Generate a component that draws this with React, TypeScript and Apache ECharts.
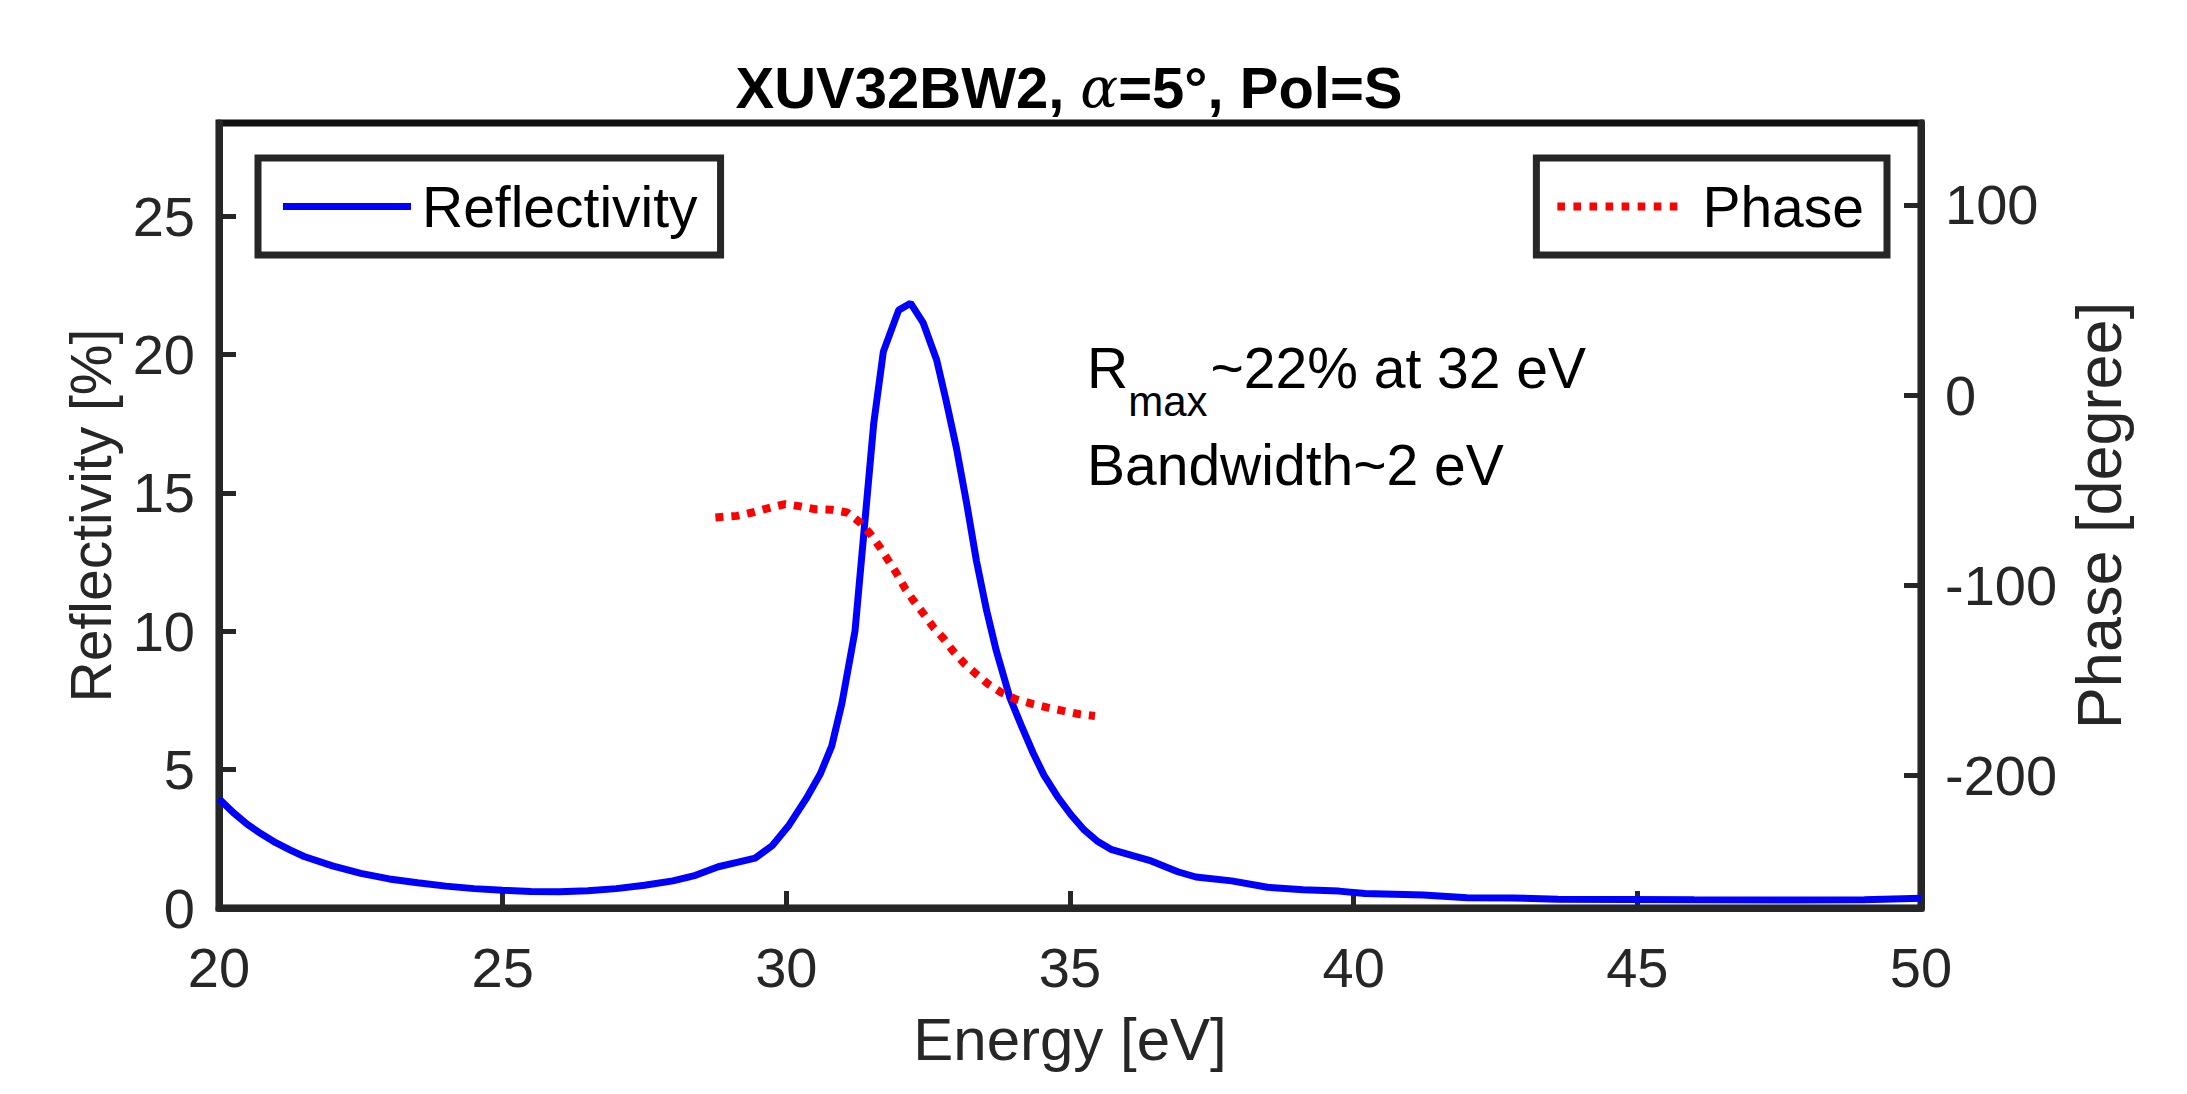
import React, { useEffect, useRef } from 'react';
import * as echarts from 'echarts';

// ---------- data ----------
const energyR = [
  20.0, 20.25, 20.5, 20.75, 21.0, 21.25, 21.5, 22.0, 22.5, 23.0, 23.5, 24.0, 24.5, 25.0, 25.5, 26.0,
  26.5, 27.0, 27.5, 28.0, 28.4, 28.8, 29.15, 29.45, 29.75, 30.05, 30.35, 30.6, 30.8, 30.98, 31.21,
  31.36, 31.54, 31.71, 31.98, 32.19, 32.41, 32.65, 32.82, 33.0, 33.18, 33.35, 33.53, 33.7, 33.94,
  34.15, 34.35, 34.54, 34.78, 35.02, 35.25, 35.49, 35.72, 36.12, 36.43, 36.9, 37.22, 37.85, 38.48,
  39.11, 39.74, 40.2, 41.23, 42.0, 42.8, 43.6, 44.8, 46.0, 47.7, 49.0, 50.0,
];
const reflectivity = [
  3.95, 3.45, 3.02, 2.67, 2.36, 2.1, 1.86, 1.52, 1.25, 1.05, 0.91, 0.79, 0.7, 0.64, 0.6, 0.59,
  0.62, 0.7, 0.82, 0.98, 1.18, 1.49, 1.66, 1.8, 2.25, 3.0, 3.95, 4.85, 5.85, 7.4, 10.0,
  13.4, 17.5, 20.1, 21.6, 21.85, 21.15, 19.8, 18.3, 16.6, 14.6, 12.55, 10.75, 9.3, 7.6,
  6.55, 5.6, 4.8, 4.02, 3.36, 2.82, 2.4, 2.12, 1.88, 1.7, 1.31, 1.12, 0.98, 0.75,
  0.66, 0.61, 0.52, 0.47, 0.37, 0.36, 0.32, 0.31, 0.3, 0.29, 0.3, 0.35,
];
const energyP = [
  28.75, 29.13, 29.42, 29.72, 29.98, 30.25, 30.51, 30.8, 31.07, 31.3, 31.48, 31.65, 31.8, 31.95,
  32.1, 32.24, 32.42, 32.59, 32.77, 32.95, 33.15, 33.36, 33.56, 33.79, 34.05, 34.35, 34.61, 34.88,
  35.17, 35.44,
];
const phase = [
  -64.3, -63.5, -61.6, -59.1, -57.3, -58.5, -60, -60.3, -61.7, -67, -73, -80, -87, -94,
  -102, -108, -115, -122, -128, -135, -141.5, -147, -152, -156.4, -160, -162.5, -164.3, -166,
  -167.8, -168.7,
];
const xRange = [20, 50];
const xStep = 5;
const leftRange = [0, 28.36];
const leftStep = 5;
const rightRange = [-269.7, 143.1];
const rightStep = 100;

const titleParts = ['XUV32BW2, ', 'α', '=5°, Pol=S'];
const annotation1 = ['R', 'max', '~22% at 32 eV'];
const annotation2 = 'Bandwidth~2 eV';

const FONT = "'Liberation Sans', Arial, Helvetica, sans-serif";
const AX = '#262626';

// dotted legend sample (8 square dots)
const DOTS_ICON =
  'path://' +
  Array.from({ length: 8 }, (_, i) => `M${i * 17},0h8v8h-8z`).join(' ');

function measure(text: string, size: number): number {
  const ctx = document.createElement('canvas').getContext('2d');
  if (!ctx) return text.length * size * 0.55;
  ctx.font = `${size}px ${FONT}`;
  return ctx.measureText(text).width;
}

export default function App() {
  const ref = useRef<HTMLDivElement>(null);

  useEffect(() => {
    if (!ref.current) return;
    const chart = echarts.init(ref.current, undefined, { renderer: 'svg' });

    const annX = 1087;
    const mainSize = 57;
    const subSize = 42;
    const rW = measure(annotation1[0], mainSize);
    const maxW = measure(annotation1[1], subSize);

    const axisCommon = {
      axisLine: { show: true, onZero: false, lineStyle: { color: AX, width: 7 } },
      axisTick: { show: true, inside: true, length: 17, lineStyle: { color: AX, width: 5 } },
      splitLine: { show: false },
    };
    const tickFont = 56;

    const option: any = {
      animation: false,
      backgroundColor: '#ffffff',
      title: {
        text: `{b|${titleParts[0]}}{a|${titleParts[1]}}{b|${titleParts[2]}}`,
        left: 1064,
        top: 53,
        textAlign: 'center',
        textStyle: {
          rich: {
            b: { fontFamily: FONT, fontWeight: 'bold', fontSize: 58, color: '#000' },
            a: { fontFamily: "'DejaVu Serif', serif", fontStyle: 'italic', fontWeight: 'normal', fontSize: 56, color: '#000' },
          },
        },
      },
      grid: {
        left: 219,
        right: 266,
        top: 123,
        bottom: 186,
        show: true,
        borderColor: '#111',
        borderWidth: 7,
        backgroundColor: '#fff',
        containLabel: false,
        outerBoundsMode: 'none',
      },
      legend: [
        {
          data: ['Reflectivity'],
          left: 258,
          top: 158,
          padding: [20, 23, 20, 25],
          icon: 'rect',
          itemWidth: 128,
          itemHeight: 7,
          symbolKeepAspect: false,
          borderColor: AX,
          borderWidth: 7,
          backgroundColor: '#fff',
          textStyle: { fontFamily: FONT, fontSize: 57, color: '#000', padding: [0, 0, 0, 6] },
        },
        {
          data: ['Phase'],
          right: 300,
          top: 158,
          padding: [20, 23, 20, 21],
          icon: DOTS_ICON,
          itemWidth: 120,
          itemHeight: 8,
          symbolKeepAspect: false,
          borderColor: AX,
          borderWidth: 7,
          backgroundColor: '#fff',
          textStyle: { fontFamily: FONT, fontSize: 57, color: '#000', padding: [0, 0, 0, 20] },
        },
      ],
      xAxis: {
        type: 'value',
        min: xRange[0],
        max: xRange[1],
        interval: xStep,
        name: 'Energy [eV]',
        nameLocation: 'middle',
        nameGap: 101,
        nameTextStyle: { fontFamily: FONT, fontSize: 60, color: AX },
        ...axisCommon,
        axisLabel: { margin: 31, fontFamily: FONT, fontSize: tickFont, color: AX },
      },
      yAxis: [
        {
          type: 'value',
          position: 'left',
          min: leftRange[0],
          max: leftRange[1],
          interval: leftStep,
          name: 'Reflectivity [%]',
          nameLocation: 'middle',
          nameGap: 100,
          nameTextStyle: { fontFamily: FONT, fontSize: 57, color: AX },
          ...axisCommon,
          axisLabel: {
            margin: 24,
            fontFamily: FONT,
            fontSize: tickFont,
            color: AX,
            showMaxLabel: false,
            formatter: (v: number) => (Math.abs(v / leftStep - Math.round(v / leftStep)) < 1e-6 ? String(v) : ''),
          },
        },
        {
          type: 'value',
          position: 'right',
          min: rightRange[0],
          max: rightRange[1],
          splitNumber: 4,
          name: 'Phase [degree]',
          nameLocation: 'middle',
          nameGap: 146,
          nameTextStyle: { fontFamily: FONT, fontSize: 63, color: AX },
          ...axisCommon,
          axisLabel: {
            margin: 24,
            fontFamily: FONT,
            fontSize: tickFont,
            color: AX,
            showMinLabel: false,
            showMaxLabel: false,
            formatter: (v: number) => (Math.abs(v / rightStep - Math.round(v / rightStep)) < 1e-6 ? String(Math.round(v)) : ''),
          },
        },
      ],
      series: [
        {
          name: 'Reflectivity',
          type: 'line',
          yAxisIndex: 0,
          data: energyR.map((e, i) => [e, reflectivity[i]]),
          symbol: 'none',
          showSymbol: false,
          lineStyle: { color: '#0000ff', width: 7 },
          itemStyle: { color: '#0000ff' },
          z: 2,
        },
        {
          name: 'Phase',
          type: 'line',
          yAxisIndex: 1,
          data: energyP.map((e, i) => [e, phase[i]]),
          symbol: 'none',
          showSymbol: false,
          lineStyle: { color: '#ff0000', width: 8, type: [8, 8], cap: 'butt' },
          itemStyle: { color: '#ff0000' },
          z: 3,
        },
      ],
      graphic: [
        {
          type: 'text',
          x: annX,
          y: 368,
          style: { text: annotation1[0], fontFamily: FONT, fontSize: mainSize, fill: '#000', align: 'left', verticalAlign: 'middle' },
        },
        {
          type: 'text',
          x: annX + rW,
          y: 401,
          style: { text: annotation1[1], fontFamily: FONT, fontSize: subSize, fill: '#000', align: 'left', verticalAlign: 'middle' },
        },
        {
          type: 'text',
          x: annX + rW + maxW + 3,
          y: 368,
          style: { text: annotation1[2], fontFamily: FONT, fontSize: mainSize, fill: '#000', align: 'left', verticalAlign: 'middle' },
        },
        {
          type: 'text',
          x: annX,
          y: 465,
          style: { text: annotation2, fontFamily: FONT, fontSize: mainSize, fill: '#000', align: 'left', verticalAlign: 'middle' },
        },
      ],
    };

    chart.setOption(option);
    return () => {
      chart.dispose();
    };
  }, []);

  return (
    <div
      ref={ref}
      style={{ position: 'fixed', left: 0, top: 0, width: 2187, height: 1094, background: '#fff' }}
    />
  );
}
